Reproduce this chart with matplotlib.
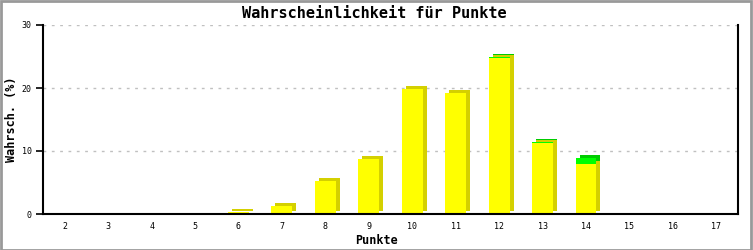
import numpy as np
import matplotlib.pyplot as plt
import matplotlib.transforms as mtransforms

# Daten
punkte = list(range(2, 18))
gelb = [0, 0, 0, 0, 0.3, 1.2, 5.2, 8.7, 19.8, 19.2, 24.7, 11.2, 7.9, 0, 0, 0]
gruen = [0, 0, 0, 0, 0, 0, 0, 0, 0, 0, 0.3, 0.3, 1.0, 0, 0, 0]
y_ticks = [0, 10, 20, 30]

plt.rcParams['font.family'] = ['DejaVu Sans Mono']

fig = plt.figure(figsize=(7.53, 2.5), dpi=100)
ax = fig.add_axes([43 / 753, 36 / 250, 695 / 753, 189 / 250])

x = np.array(punkte)
gelb = np.array(gelb)
gruen = np.array(gruen)
w = 0.48

# schatten (nach rechts oben versetzt)
shadow = mtransforms.offset_copy(ax.transData, fig=fig, x=4, y=3, units='dots')
m = gelb > 0
ax.bar(x[m], gelb[m], w, color='#d4d000', transform=shadow, zorder=2, linewidth=0)
m2 = gruen > 0
ax.bar(x[m2], gruen[m2], w, bottom=gelb[m2], color='#00cc00', transform=shadow,
       zorder=2, linewidth=0)
ax.bar(x[m], gelb[m], w, color='#ffff00', zorder=3, linewidth=0)
ax.bar(x[m2], gruen[m2], w, bottom=gelb[m2], color='#00ff00', zorder=3, linewidth=0)

ax.set_xlim(1.5, 17.5)
ax.set_ylim(0, 30)
ax.set_xticks(punkte)
ax.set_xticklabels([str(p) for p in punkte], fontsize=6)
ax.set_yticks(y_ticks)
ax.set_yticklabels([str(t) for t in y_ticks], fontsize=6)
ax.tick_params(axis='x', length=0, pad=6)
ax.tick_params(axis='y', length=5, width=1.2, pad=3)

ax.grid(axis='y', color='#c0c0c0', linestyle=(0, (2, 4)), linewidth=1, zorder=1)
ax.set_axisbelow(True)
for s in ['left', 'bottom', 'right']:
    ax.spines[s].set_linewidth(1.5)
    ax.spines[s].set_zorder(4)
ax.spines['top'].set_visible(False)

fig.text(374 / 753, 1 - 13 / 250, 'Wahrscheinlichkeit für Punkte', fontsize=11,
         fontweight='bold', ha='center', va='center')
fig.text(376 / 753, 1 - 240 / 250, 'Punkte', fontsize=8.5, fontweight='bold',
         ha='center', va='center')
fig.text(12 / 753, 1 - 119 / 250, 'Wahrsch. (%)', fontsize=8.5, fontweight='bold',
         ha='center', va='center', rotation=90)

# grauer Rahmen
fig.patches.append(plt.Rectangle((0.001, 0.002), 0.997, 0.995, transform=fig.transFigure,
                                 fill=False, edgecolor='#999999', linewidth=2))

fig.savefig('out.png', dpi=100)
